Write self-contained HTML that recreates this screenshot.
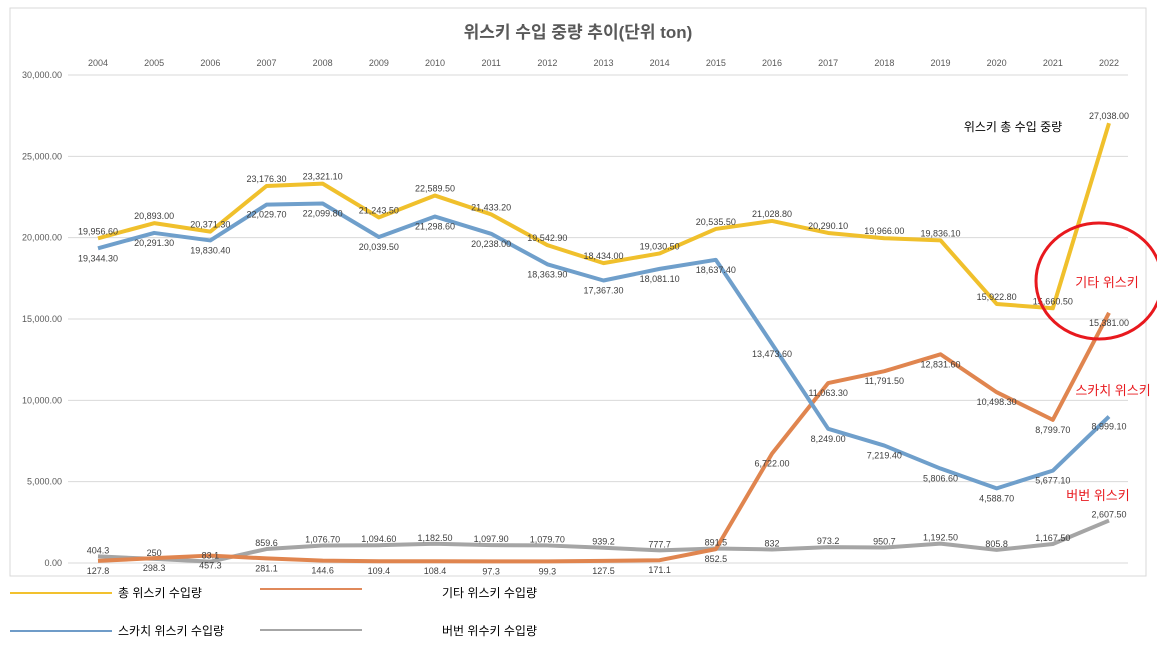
<!DOCTYPE html>
<html><head><meta charset="utf-8"><style>
body{margin:0;background:#fff;width:1157px;height:655px;overflow:hidden;font-family:"Liberation Sans","Noto Sans CJK KR",sans-serif}
svg text{font-family:"Liberation Sans","Noto Sans CJK KR",sans-serif}
</style></head><body>
<svg id="chart" width="1157" height="655" xmlns="http://www.w3.org/2000/svg">
<rect x="10" y="8" width="1136" height="568" fill="#fff" stroke="#d9d9d9"/>
<text x="578" y="38" text-anchor="middle" font-size="17" font-weight="bold" fill="#595959">위스키 수입 중량 추이(단위 ton)</text>
<g id="grid"></g><g id="lines"></g><g id="labels"></g>
<text x="1013" y="131" text-anchor="middle" font-size="12" fill="#000">위스키 총 수입 중량</text>
<ellipse cx="1099" cy="281" rx="63" ry="58" fill="none" stroke="#e8191e" stroke-width="3"/>
<text x="1107" y="287" text-anchor="middle" font-size="13" fill="#e8191e">기타 위스키</text>
<text x="1113" y="395" text-anchor="middle" font-size="13" fill="#e8191e">스카치 위스키</text>
<text x="1098" y="500" text-anchor="middle" font-size="13" fill="#e8191e">버번 위스키</text>
<g>
<line x1="10" y1="593" x2="112" y2="593" stroke="#f2c12e" stroke-width="2"/>
<text x="118" y="597" font-size="12">총 위스키 수입량</text>
<line x1="260" y1="589" x2="362" y2="589" stroke="#e0895a" stroke-width="2"/>
<text x="442" y="597" font-size="12">기타 위스키 수입량</text>
<line x1="10" y1="631" x2="112" y2="631" stroke="#6f9cc8" stroke-width="2"/>
<text x="118" y="635" font-size="12">스카치 위스키 수입량</text>
<line x1="260" y1="630" x2="362" y2="630" stroke="#a6a6a6" stroke-width="2"/>
<text x="442" y="635" font-size="12">버번  위수키 수입량</text>
</g>
</svg>
<script>
const years=[2004,2005,2006,2007,2008,2009,2010,2011,2012,2013,2014,2015,2016,2017,2018,2019,2020,2021,2022];
const totalVals=[19956.6,20893,20371.3,23176.3,23321.1,21243.5,22589.5,21433.2,19542.9,18434,19030.5,20535.5,21028.8,20290.1,19966,19836.1,15922.8,15660.5,27038];
const scotchVals=[19344.3,20291.3,19830.4,22029.7,22099.8,20039.5,21298.6,20238,18363.9,17367.3,18081.1,18637.4,13473.6,8249,7219.4,5806.6,4588.7,5677.1,8999.1];
const otherVals=[127.8,298.3,457.3,281.1,144.6,109.4,108.4,97.3,99.3,127.5,171.1,852.5,6722,11063.3,11791.5,12831.6,10498.3,8799.7,15381];
const bourbonVals=[404.3,250,83.1,859.6,1076.7,1094.6,1182.5,1097.9,1079.7,939.2,777.7,891.5,832,973.2,950.7,1192.5,805.8,1167.5,2607.5];
const yTicks=[0,5000,10000,15000,20000,25000,30000];
const NS="http://www.w3.org/2000/svg";
const x0=98,x1=1109,yTop=75,yBot=563,yMax=30000;
const xs=i=>x0+(x1-x0)*i/(years.length-1);
const ys=v=>yBot-(yBot-yTop)*v/yMax;
function mk(tag,attrs,parent,txt){const e=document.createElementNS(NS,tag);for(const k in attrs)e.setAttribute(k,attrs[k]);if(txt!==undefined)e.textContent=txt;parent.appendChild(e);return e;}
const grid=document.getElementById('grid'),lines=document.getElementById('lines'),labels=document.getElementById('labels');
const fmt2=v=>v.toLocaleString('en-US',{minimumFractionDigits:2,maximumFractionDigits:2});
yTicks.forEach(t=>{
 const l=mk('line',{x1:68,x2:1128,y1:ys(t),y2:ys(t),stroke:'#d9d9d9','stroke-width':1},grid);
 
 
 const tx=mk('text',{x:62,y:ys(t)+3,'text-anchor':'end','font-size':9,fill:'#595959'},grid,fmt2(t));
 
 
});
years.forEach((y,i)=>{
 const tx=mk('text',{x:xs(i),y:66,'text-anchor':'middle','font-size':9,fill:'#595959'},grid,y);
 
 
});
function series(vals,color,name,dy,f){
 const p=mk('polyline',{points:vals.map((v,i)=>xs(i)+','+ys(v)).join(' '),fill:'none',stroke:color,'stroke-width':4,'stroke-linejoin':'round'},lines);
 
 
 vals.forEach((v,i)=>{
  const t=mk('text',{x:xs(i),y:ys(v)+dy,'text-anchor':'middle','font-size':9,fill:'#404040'},labels,f(v));
  
  
 });
}
const fb=v=>v>=1000?fmt2(v):String(v);
series(bourbonVals,'#a5a5a5','bourbon',-3,fb);
series(otherVals,'#e0854f','other',13,v=>v>=1000?fmt2(v):String(v));
series(scotchVals,'#6f9fcb','scotch',13,fmt2);
series(totalVals,'#f0c02c','total',-4,fmt2);
</script>
</body></html>
